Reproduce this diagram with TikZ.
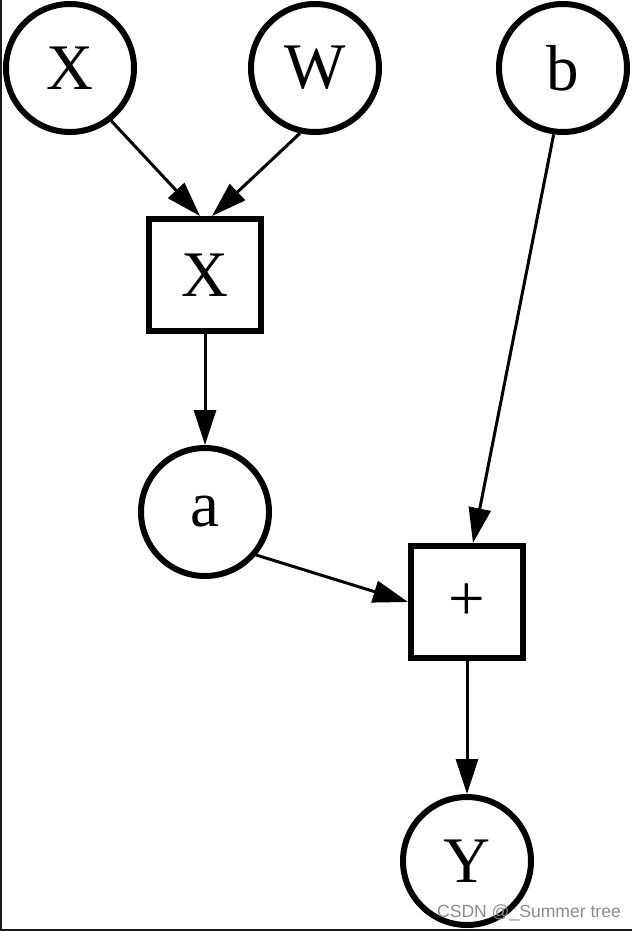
\documentclass[tikz,border=0pt]{standalone}
\usepackage{fontspec}
\setmainfont{Liberation Serif}
\newfontfamily\marksans{Liberation Sans}
\usetikzlibrary{arrows.meta}
\begin{document}
\begin{tikzpicture}
% graph exported in pixel units
\def\pxsz{0.02cm}
\providecommand{\graphLineWidth}{6*\pxsz}
\providecommand{\graphEdgeWidth}{3*\pxsz}
\begin{scope}[x=\pxsz, y=-\pxsz,
  varnode/.style={circle, draw, line width=\graphLineWidth, minimum size=128*\pxsz, inner sep=0pt, font=\fontsize{37}{40}\selectfont},
  opnode/.style={rectangle, draw, line width=\graphLineWidth, minimum size=112*\pxsz, inner sep=0pt, font=\fontsize{37}{40}\selectfont},
  flow/.style={line width=\graphEdgeWidth, -{Triangle[length=35*\pxsz, width=22*\pxsz]}}]
  % Page frame
  \useasboundingbox (0,0) rectangle (632,931);
  \fill[white] (0,0) rectangle (632,931);
  \draw[line width=2*\pxsz, black!90] (1,0) -- (1,930) -- (632,930);
  % Nodes
  \node[varnode] (xin) at (70,68) {X};
  \node[varnode] (win) at (315,68) {W};
  \node[varnode] (bin) at (563,68) {b};
  \node[opnode] (mul) at (205,275) {X};
  \node[varnode] (ain) at (205,512) {a};
  \node[opnode] (add) at (467,602) {+};
  \node[varnode] (yout) at (467,861) {Y};
  % Edges
  \draw[flow] (xin.-52) -- ([xshift=-5*\pxsz]mul.north);
  \draw[flow] (win.-103) -- ([xshift=7*\pxsz]mul.north);
  \draw[flow] (mul.south) -- (ain.north);
  \draw[flow] (bin.-98) -- ([xshift=6*\pxsz]add.north);
  \draw[flow] (ain.-40) -- (add.west);
  \draw[flow] (add.south) -- (yout.north);
  % Watermark
  \node[font=\marksans\fontsize{10}{12}\selectfont, text=black!45, inner sep=0pt] (mark) at (529,913) {CSDN @\_Summer tree};
\end{scope}
\end{tikzpicture}
\end{document}
